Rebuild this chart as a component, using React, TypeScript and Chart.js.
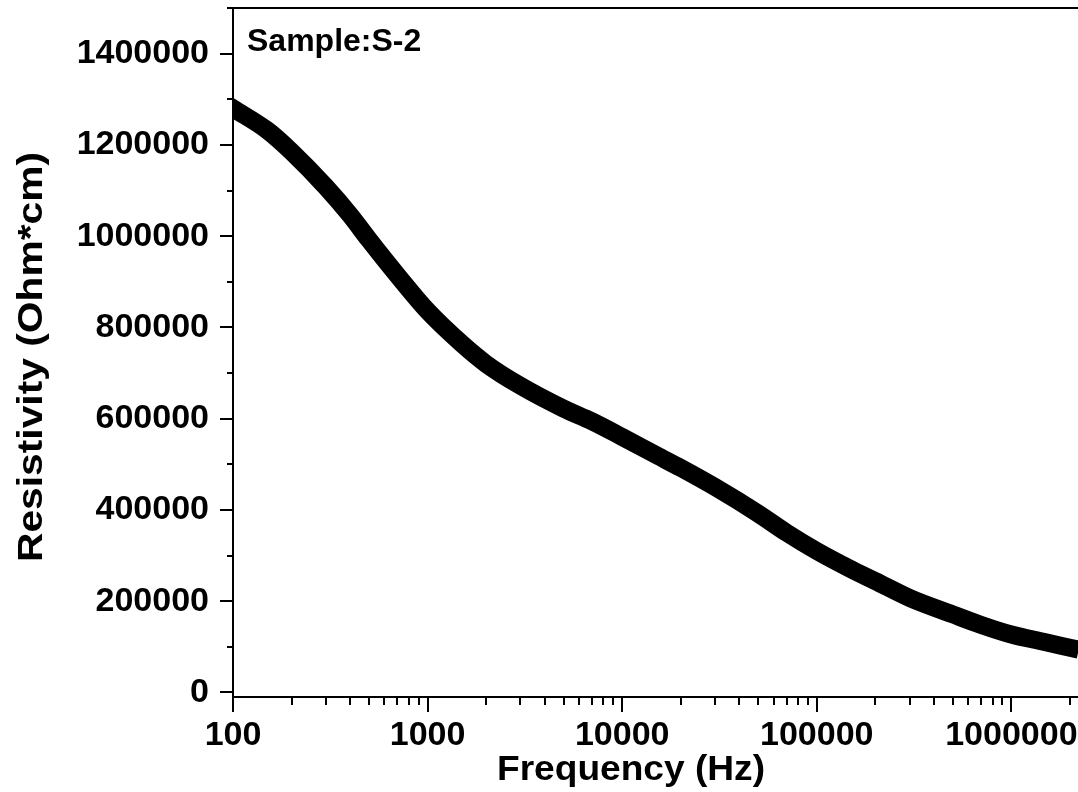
import React, { useEffect, useRef } from "react";
import { Chart, registerables } from "chart.js";

Chart.register(...registerables);

// ---- Data ----
const frequencies = [
  100, 150, 200, 300, 400, 500, 700, 1000, 1500, 2000, 3000, 5000, 7000,
  10000, 15000, 20000, 30000, 50000, 70000, 100000, 150000, 200000, 300000,
  500000, 700000, 1000000, 1500000, 2000000,
];
const resistivity = [
  1280000, 1232000, 1185000, 1108000, 1046000, 992000, 914000, 836000,
  764000, 720000, 672000, 622000, 594000, 560000, 520000, 492000, 450000,
  392000, 350000, 310000, 270000, 244000, 207000, 171000, 148000, 127000,
  110000, 98000,
];
const xTickValues = [100, 1000, 10000, 100000, 1000000];
const yTickValues = [0, 200000, 400000, 600000, 800000, 1000000, 1200000, 1400000];
const yMinorTickValues = [100000, 300000, 500000, 700000, 900000, 1100000, 1300000, 1500000];
const sampleLabel = "Sample:S-2";
const xTitle = "Frequency (Hz)";
const yTitle = "Resistivity (Ohm*cm)";

const X_MIN = 100;
const X_MAX = 2200000;
const Y_MIN = -10000;
const Y_MAX = 1500000;

const FONT_FAMILY = "'Liberation Sans', Arial, Helvetica, sans-serif";

function drawStretched(
  ctx: CanvasRenderingContext2D,
  text: string,
  cx: number,
  cy: number,
  targetW: number,
  rotate: boolean
) {
  ctx.save();
  ctx.translate(cx, cy);
  if (rotate) ctx.rotate(-Math.PI / 2);
  const w = ctx.measureText(text).width;
  ctx.scale(targetW / w, 1);
  ctx.textAlign = "center";
  ctx.textBaseline = "alphabetic";
  ctx.fillText(text, 0, 0);
  ctx.restore();
}

const originAxesPlugin = {
  id: "originAxes",
  afterDraw(chart: any) {
    const { ctx, chartArea, scales } = chart;
    const xs = scales.x;
    const ys = scales.y;
    const left = Math.round(chartArea.left);
    const right = Math.round(chartArea.right);
    const top = Math.round(chartArea.top);
    const bottom = Math.round(chartArea.bottom);
    ctx.save();
    ctx.strokeStyle = "#000";
    ctx.fillStyle = "#000";
    ctx.lineWidth = 2;
    ctx.lineCap = "butt";
    ctx.beginPath();
    // frame: top, left, bottom
    ctx.moveTo(left - 1, top);
    ctx.lineTo(right, top);
    ctx.moveTo(left, top);
    ctx.lineTo(left, bottom);
    ctx.moveTo(left - 1, bottom);
    ctx.lineTo(right, bottom);
    // y major ticks
    yTickValues.forEach((v) => {
      const py = Math.round(ys.getPixelForValue(v));
      ctx.moveTo(left - 13, py);
      ctx.lineTo(left, py);
    });
    // y minor ticks
    yMinorTickValues.forEach((v) => {
      const py = Math.round(ys.getPixelForValue(v));
      ctx.moveTo(left - 6, py);
      ctx.lineTo(left, py);
    });
    // x major ticks
    xTickValues.forEach((v) => {
      const px = Math.round(xs.getPixelForValue(v));
      ctx.moveTo(px, bottom);
      ctx.lineTo(px, bottom + 15);
    });
    // x minor ticks
    for (let d = 100; d <= X_MAX; d *= 10) {
      for (let k = 2; k <= 9; k++) {
        const v = k * d;
        if (v > X_MAX) break;
        const px = Math.round(xs.getPixelForValue(v));
        ctx.moveTo(px, bottom);
        ctx.lineTo(px, bottom + 8);
      }
    }
    ctx.stroke();

    // sample label
    ctx.font = `bold 32px ${FONT_FAMILY}`;
    ctx.textAlign = "left";
    ctx.textBaseline = "alphabetic";
    ctx.fillText(sampleLabel, 247, 51);

    // axis titles
    ctx.font = `bold 35px ${FONT_FAMILY}`;
    drawStretched(ctx, xTitle, 631, 780, 268, false);
    drawStretched(ctx, yTitle, 42, 357, 410, true);
    ctx.restore();
  },
};

function zeroPadding(scale: any) {
  scale.paddingTop = 0;
  scale.paddingBottom = 0;
  scale.paddingLeft = 0;
  scale.paddingRight = 0;
}

export default function App() {
  const canvasRef = useRef<HTMLCanvasElement | null>(null);

  useEffect(() => {
    const canvas = canvasRef.current;
    if (!canvas) return;
    const points = frequencies.map((f, i) => ({ x: f, y: resistivity[i] }));
    const chart = new Chart(canvas, {
      type: "line",
      data: {
        datasets: [
          {
            data: points,
            borderColor: "#000",
            backgroundColor: "#000",
            borderWidth: 18,
            pointRadius: 0,
            cubicInterpolationMode: "monotone",
            borderCapStyle: "square",
            borderJoinStyle: "round",
            clip: 0,
          } as any,
        ],
      },
      options: {
        responsive: false,
        maintainAspectRatio: false,
        animation: false,
        events: [],
        layout: { padding: { top: 8, right: 0, left: 0, bottom: 0 } },
        plugins: {
          legend: { display: false },
          tooltip: { enabled: false },
          title: { display: false },
        },
        scales: {
          x: {
            type: "logarithmic",
            min: X_MIN,
            max: X_MAX,
            grid: { display: false, drawTicks: false },
            border: { display: false },
            afterBuildTicks: (scale: any) => {
              scale.ticks = xTickValues.map((v) => ({ value: v }));
            },
            afterFit: (scale: any) => {
              scale.height = 95;
              zeroPadding(scale);
            },
            ticks: {
              autoSkip: false,
              maxRotation: 0,
              minRotation: 0,
              padding: 18,
              color: "#000",
              font: { family: FONT_FAMILY, size: 34, weight: "bold" },
              callback: (v: any) => String(v),
            },
          },
          y: {
            type: "linear",
            min: Y_MIN,
            max: Y_MAX,
            grid: { display: false, drawTicks: false },
            border: { display: false },
            afterBuildTicks: (scale: any) => {
              scale.ticks = yTickValues.map((v) => ({ value: v }));
            },
            afterFit: (scale: any) => {
              scale.width = 233;
              zeroPadding(scale);
            },
            ticks: {
              autoSkip: false,
              padding: 24,
              color: "#000",
              font: { family: FONT_FAMILY, size: 34, weight: "bold" },
              callback: (v: any) => String(v),
            },
          },
        },
      },
      plugins: [originAxesPlugin],
    });
    return () => chart.destroy();
  }, []);

  return (
    <div
      style={{
        position: "fixed",
        left: 0,
        top: 0,
        width: 1078,
        height: 792,
        background: "#fff",
      }}
    >
      <canvas ref={canvasRef} width={1078} height={792} style={{ display: "block" }} />
    </div>
  );
}
